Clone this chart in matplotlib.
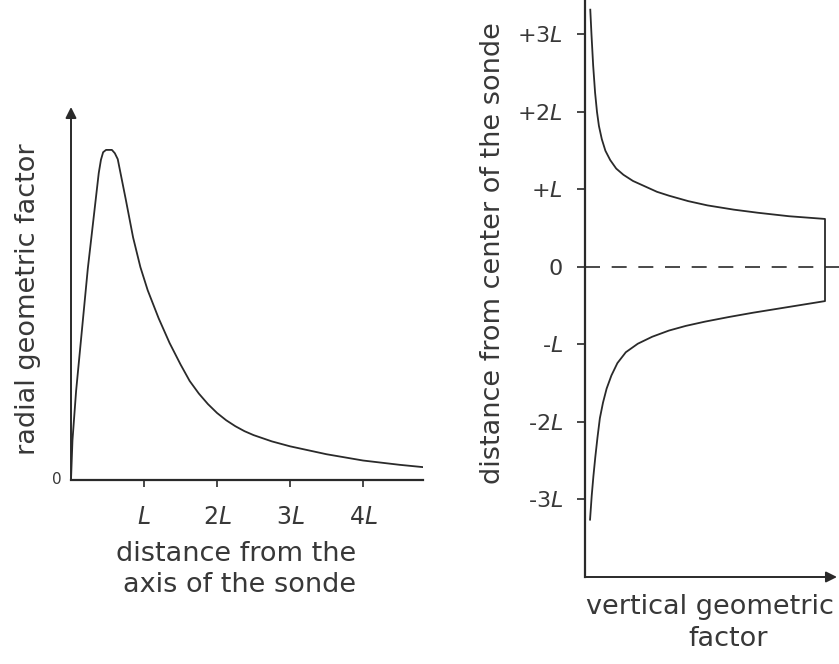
import matplotlib
matplotlib.use("Agg")
import matplotlib.pyplot as plt

# radial geometric factor vs distance from the sonde axis (units of L)
radial_x = [0.0, 0.02, 0.07, 0.23, 0.38, 0.41, 0.44, 0.48, 0.56, 0.6, 0.64,
            0.75, 0.85, 0.95, 1.05, 1.2, 1.35, 1.5, 1.625, 1.75, 1.875, 2.0,
            2.125, 2.25, 2.375, 2.5, 2.75, 3.0, 3.5, 4.0, 4.5, 4.82]
radial_y = [0.0, 0.12, 0.27, 0.64, 0.93, 0.97, 0.993, 1.0, 1.0, 0.99, 0.972,
            0.85, 0.735, 0.645, 0.575, 0.49, 0.415, 0.35, 0.30, 0.262, 0.23, 0.203,
            0.181, 0.163, 0.148, 0.136, 0.117, 0.102, 0.078, 0.059, 0.046, 0.039]
radial_ticks = [1, 2, 3, 4]
radial_ticklabels = ["$L$", "2$L$", "3$L$", "4$L$"]

# vertical geometric factor (x) vs distance from center of the sonde (y, units of L)
upper_x = [0.022, 0.027, 0.034, 0.042, 0.05, 0.058, 0.07, 0.085, 0.105, 0.13,
           0.16, 0.2, 0.25, 0.3, 0.35, 0.43, 0.51, 0.62, 0.72, 0.85, 1.0]
upper_y = [3.32, 3.0, 2.6, 2.25, 2.0, 1.82, 1.65, 1.5, 1.38, 1.27,
           1.19, 1.11, 1.04, 0.97, 0.92, 0.85, 0.795, 0.74, 0.70, 0.655, 0.62]
lower_x = [1.0, 0.9, 0.8, 0.7, 0.6, 0.5, 0.42, 0.35, 0.28, 0.22, 0.17,
           0.135, 0.11, 0.09, 0.075, 0.062, 0.052, 0.043, 0.035, 0.028, 0.021]
lower_y = [-0.44, -0.49, -0.54, -0.59, -0.645, -0.705, -0.76, -0.82, -0.9, -0.99, -1.1,
           -1.24, -1.4, -1.57, -1.75, -1.95, -2.2, -2.45, -2.7, -2.95, -3.26]
vert_ticks = [-3, -2, -1, 0, 1, 2, 3]
vert_ticklabels = ["-3$L$", "-2$L$", "-$L$", "0", "+$L$", "+2$L$", "+3$L$"]

ink = "#2a2a2a"
text_ink = "#383838"
plt.rcParams["font.family"] = ["DejaVu Sans"]
plt.rcParams["mathtext.fontset"] = "dejavusans"

fig = plt.figure(figsize=(8.39, 6.64), dpi=100)

# ---- left panel: radial geometric factor ----
ax1 = fig.add_axes([71 / 839, (664 - 480) / 664, 352 / 839, 373 / 664])
ax1.plot(radial_x, radial_y, color=ink, lw=1.3)
ax1.set_xlim(0, 4.82)
ax1.set_ylim(0, 1.13)
for s in ["top", "right", "left"]:
    ax1.spines[s].set_visible(False)
ax1.spines["bottom"].set_linewidth(1.6)
ax1.spines["bottom"].set_color(ink)
ax1.annotate("", xy=(0, 1.13), xytext=(0, 0), annotation_clip=False,
             arrowprops=dict(arrowstyle="-|>", lw=1.4, color=ink,
                             mutation_scale=16, shrinkA=0, shrinkB=0))
ax1.set_xticks(radial_ticks)
ax1.set_xticklabels(radial_ticklabels, fontsize=17, color=text_ink)
ax1.tick_params(axis="x", direction="out", length=5, width=1.2, color=ink, pad=13)
ax1.set_yticks([])
ax1.text(-0.13, 0, "0", fontsize=11, color=text_ink, ha="right", va="center")

fig.text(28 / 839, 1 - 299 / 664, "radial geometric factor", rotation=90,
         fontsize=19.5, color=text_ink, ha="center", va="center")
fig.text(236 / 839, 1 - 554 / 664, "distance from the", fontsize=19.5,
         color=text_ink, ha="center", va="center")
fig.text(240 / 839, 1 - 585 / 664, "axis of the sonde", fontsize=19.5,
         color=text_ink, ha="center", va="center")

# ---- right panel: vertical geometric factor ----
ax2 = fig.add_axes([585 / 839, (664 - 577) / 664, 252 / 839, 577 / 664])
ax2.plot(upper_x + lower_x, upper_y + lower_y, color=ink, lw=1.3)
ax2.plot([0, 1.06], [0, 0], color=ink, lw=1.2, ls=(0, (9, 7)), clip_on=False)
ax2.set_xlim(0, 1.05)
ax2.set_ylim(-4.0, 3.445)
for s in ["top", "right", "bottom"]:
    ax2.spines[s].set_visible(False)
ax2.spines["left"].set_linewidth(1.6)
ax2.spines["left"].set_color(ink)
ax2.annotate("", xy=(1.05, -4.0), xytext=(0, -4.0), annotation_clip=False,
             arrowprops=dict(arrowstyle="-|>", lw=1.4, color=ink,
                             mutation_scale=16, shrinkA=0, shrinkB=0))
ax2.set_yticks(vert_ticks)
ax2.set_yticklabels(vert_ticklabels, fontsize=16, color=text_ink)
ax2.tick_params(axis="y", direction="out", length=6, width=1.2, color=ink, pad=10)
ax2.set_xticks([])

fig.text(493 / 839, 1 - 253 / 664, "distance from center of the sonde",
         rotation=90, fontsize=19.5, color=text_ink, ha="center", va="center")
fig.text(710 / 839, 1 - 607 / 664, "vertical geometric", fontsize=19.5,
         color=text_ink, ha="center", va="center")
fig.text(728 / 839, 1 - 639 / 664, "factor", fontsize=19.5,
         color=text_ink, ha="center", va="center")

fig.savefig("out.png", dpi=100, facecolor="white")
